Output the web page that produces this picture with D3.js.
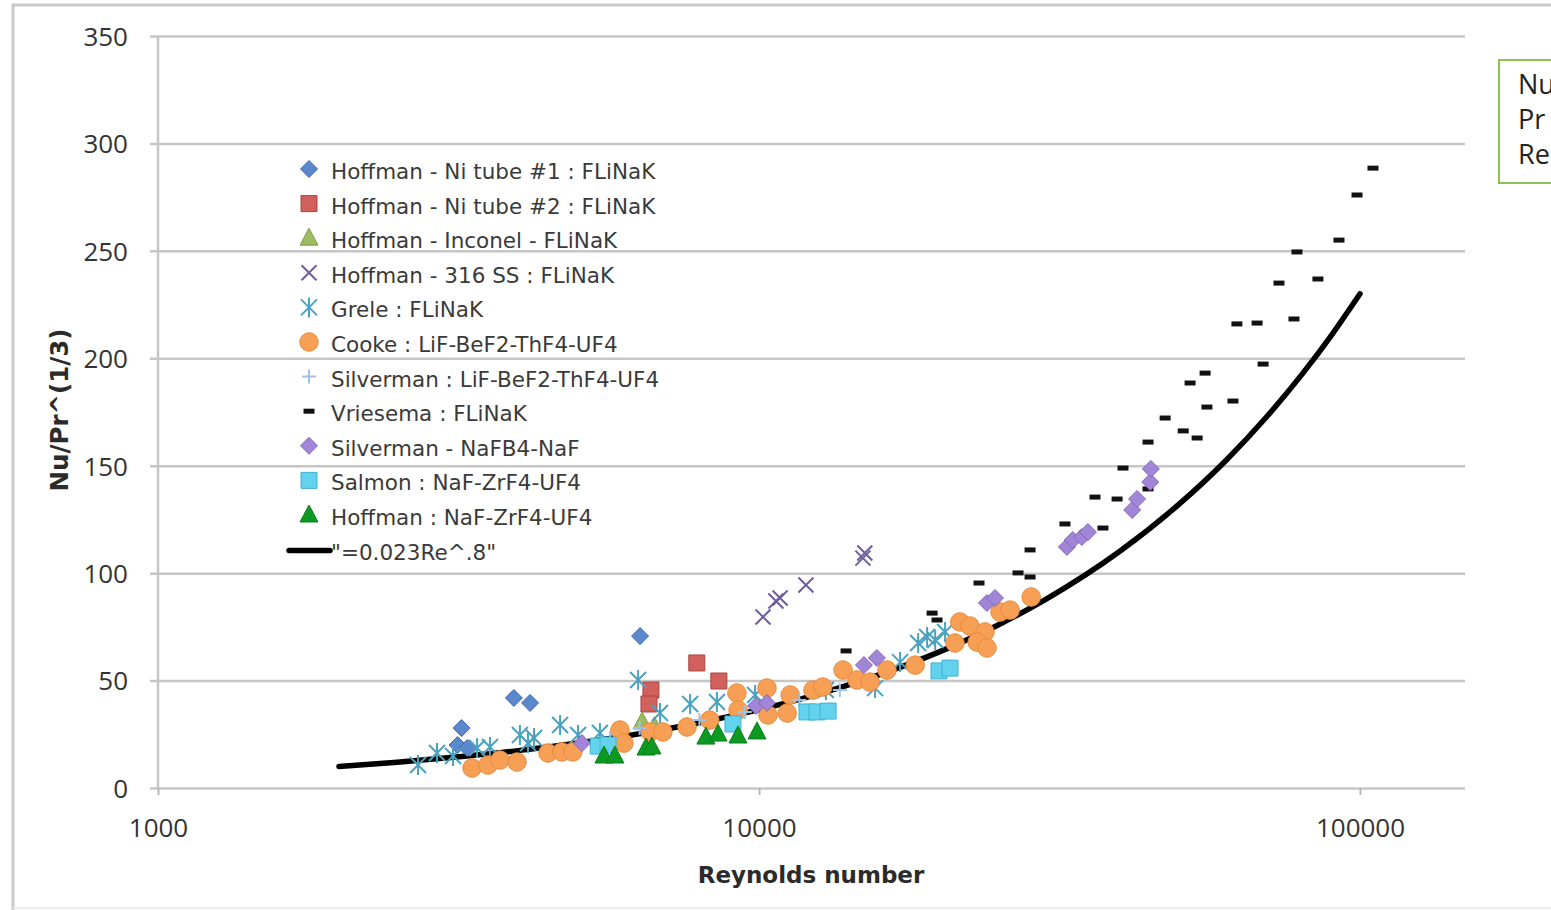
<!DOCTYPE html>
<html>
<head>
<meta charset="utf-8">
<script src="https://cdn.jsdelivr.net/npm/d3@7"></script>
<style>
  html, body { margin: 0; padding: 0; background: #fff; }
  svg { display: block; }
  text { font-family: "Open Sans", "DejaVu Sans", sans-serif; }
</style>
</head>
<body>
<svg id="chart" width="1551" height="910"></svg>
<script>
// ---- Data: [Reynolds number, Nu/Pr^(1/3)] ----
const hoffmanNi1 = [[3200, 27.9], [3150, 20.0], [3270, 18.6], [3910, 41.9], [4160, 39.6], [6340, 70.7]];
const hoffmanNi2 = [[7880, 58.2], [6610, 45.6], [6560, 39.1], [8575, 49.8]];
const hoffmanInconel = [[6390, 30.7], [6700, 28.5]];
const hoffman316 = [[10155, 79.6], [10670, 87.0], [10840, 88.4], [11970, 94.5], [14890, 107.0], [15000, 109.4]];
const grele = [[2708, 10.7], [2912, 16.3], [3097, 14.9], [3396, 18.6], [3567, 19.1], [4001, 24.7], [4127, 20.9],
  [4224, 23.3], [4667, 29.3], [5000, 24.7], [5436, 25.6], [6293, 50.3], [6843, 34.9], [7680, 39.1], [8511, 40.0],
  [9850, 43.3], [12920, 45.6], [15600, 46.5], [17170, 58.6], [18400, 67.5], [19040, 70.3], [19640, 68.9], [20400, 72.6]];
const cooke = [[3331, 9.3], [3540, 10.7], [3707, 13.0], [3957, 12.1], [4456, 16.3], [4699, 16.8], [4900, 16.8],
  [5870, 27.0], [5960, 20.9], [6590, 26.1], [6920, 26.1], [7590, 28.4], [8280, 31.6], [9190, 44.2], [9230, 36.3],
  [10310, 46.5], [10350, 34.0], [11140, 34.9], [11270, 43.3], [12300, 45.6], [12770, 47.0], [13800, 54.9],
  [14560, 50.3], [15300, 49.3], [16330, 54.9], [18190, 57.2], [21190, 67.5], [21590, 77.3], [22440, 75.4],
  [23770, 72.6], [23070, 67.9], [23950, 65.2], [25180, 81.9], [26170, 82.8], [28370, 88.9]];
const silvermanLiF = [[5650, 23.3], [6330, 27.9], [7960, 31.6], [9470, 35.4], [11670, 41.0], [13630, 45.6]];
const vriesema = [[13960, 63.8], [19410, 81.4], [19780, 78.2], [23230, 95.4], [26980, 100.1], [28250, 98.2],
  [28250, 110.8], [32290, 122.9], [37350, 121.0], [36230, 135.4], [39430, 134.5], [40330, 148.9], [44390, 161.0],
  [44390, 139.2], [47400, 172.2], [50800, 166.2], [53580, 162.9], [52150, 188.5], [55240, 193.1], [55630, 177.3],
  [61460, 180.1], [62400, 216.0], [67420, 216.4], [68990, 197.3], [73310, 235.0], [77650, 218.3], [78550, 249.5],
  [85110, 236.9], [92260, 255.0], [98870, 276.0], [105100, 288.5]];
const silvermanNaFB4 = [[5076, 20.9], [9885, 38.2], [10310, 39.6], [14950, 57.2], [15710, 60.5], [23950, 86.1],
  [24700, 88.4], [32540, 112.2], [33270, 115.4], [34450, 116.8], [35260, 119.1], [41780, 129.4], [42560, 134.5],
  [44770, 142.4], [44880, 148.5]];
const salmon = [[5400, 19.5], [5608, 20.0], [9050, 29.8], [12020, 35.4], [12490, 35.4], [13030, 35.8], [19930, 54.5], [20790, 55.8]];
const hoffmanNaF = [[5522, 14.9], [5757, 14.9], [6486, 18.6], [6634, 19.1], [8160, 23.7], [8547, 25.1], [9226, 24.2], [9924, 26.1]];
// Correlation line "=0.023Re^.8", tabulated
const correlation = [[2000, 10.06], [2500, 12.02], [3000, 13.92], [4000, 17.52], [5000, 20.94], [6000, 24.23],
  [8000, 30.51], [10000, 36.45], [12000, 42.19], [15000, 50.43], [20000, 63.48], [25000, 75.88], [30000, 87.79],
  [40000, 110.5], [50000, 132.1], [60000, 152.8], [70000, 172.9], [80000, 192.4], [90000, 211.4], [100000, 230.0]];

const yTicks = [0, 50, 100, 150, 200, 250, 300, 350];
const xTicks = [1000, 10000, 100000];
const xTitle = "Reynolds number";
const yTitle = "Nu/Pr^(1/3)";
const sideNoteLines = ["Nu", "Pr", "Re"];

// ---- Series definitions (legend order = drawing order) ----
const series = [
  { name: "Hoffman - Ni tube #1 : FLiNaK", data: hoffmanNi1, shape: "diamond", fill: "#5b87cc", stroke: "#3f6aad" },
  { name: "Hoffman - Ni tube #2 : FLiNaK", data: hoffmanNi2, shape: "square", fill: "#d2605c", stroke: "#a94440" },
  { name: "Hoffman - Inconel - FLiNaK", data: hoffmanInconel, shape: "triangle", fill: "#9dbb61", stroke: "#7f9c48" },
  { name: "Hoffman - 316 SS : FLiNaK", data: hoffman316, shape: "x", fill: "none", stroke: "#6e5e9e" },
  { name: "Grele : FLiNaK", data: grele, shape: "star", fill: "none", stroke: "#4aa2c0" },
  { name: "Cooke : LiF-BeF2-ThF4-UF4", data: cooke, shape: "circle", fill: "#f7a055", stroke: "#e58a3c" },
  { name: "Silverman : LiF-BeF2-ThF4-UF4", data: silvermanLiF, shape: "plus", fill: "none", stroke: "#9fc1e4" },
  { name: "Vriesema : FLiNaK", data: vriesema, shape: "dash", fill: "#111", stroke: "none" },
  { name: "Silverman - NaFB4-NaF", data: silvermanNaFB4, shape: "diamond", fill: "#a185d6", stroke: "#8468bb" },
  { name: "Salmon : NaF-ZrF4-UF4", data: salmon, shape: "square", fill: "#62d2ee", stroke: "#3fb3d2" },
  { name: "Hoffman : NaF-ZrF4-UF4", data: hoffmanNaF, shape: "triangle", fill: "#0c9a22", stroke: "#0a7f1b" }
];
const lineSeries = { name: "\"=0.023Re^.8\"", data: correlation };

// ---- Layout ----
const plot = { left: 158, right: 1465, top: 36, bottom: 788 };
const svg = d3.select("#chart");
const labelFont = "'DejaVu Sans', sans-serif";

const x = d3.scaleLog().domain([1000, 100000]).range([plot.left, 1360]);
const y = d3.scaleLinear().domain([0, 350]).range([plot.bottom, plot.top]);

// Outer chart frame (left and top edges visible)
svg.append("path")
  .attr("d", "M13,910 L13,5 L1551,5")
  .attr("fill", "none").attr("stroke", "#c9c9c9").attr("stroke-width", 3);
svg.append("line").attr("x1", 13).attr("x2", 1551).attr("y1", 908).attr("y2", 908)
  .attr("stroke", "#ececec").attr("stroke-width", 2);

// Horizontal gridlines + left ticks
const yAxis = svg.append("g")
  .attr("transform", `translate(${plot.left},0)`)
  .call(d3.axisLeft(y).tickValues(yTicks).tickSizeInner(-(plot.right - plot.left)).tickSizeOuter(0).tickPadding(30));
yAxis.select(".domain").remove();
yAxis.selectAll(".tick line").attr("x1", -8).attr("stroke", "#c6c6c6").attr("stroke-width", 2.5);
yAxis.selectAll(".tick text")
  .attr("fill", "#333").attr("font-size", 26).attr("dy", "0.36em")
  .style("font-family", "'Open Sans', sans-serif");

// Vertical axis line
svg.append("line").attr("x1", plot.left).attr("x2", plot.left).attr("y1", plot.top).attr("y2", plot.bottom)
  .attr("stroke", "#c6c6c6").attr("stroke-width", 2.5);

// Bottom axis ticks + labels
const xAxis = svg.append("g")
  .attr("transform", `translate(0,${plot.bottom})`)
  .call(d3.axisBottom(x).tickValues(xTicks).tickFormat(d3.format("d")).tickSizeInner(7).tickSizeOuter(0).tickPadding(24));
xAxis.select(".domain").remove();
xAxis.selectAll(".tick line").attr("stroke", "#b8b8b8").attr("stroke-width", 2);
xAxis.selectAll(".tick text")
  .attr("fill", "#333").attr("font-size", 26)
  .style("font-family", "'Open Sans', sans-serif");

// Axis titles
svg.append("text").attr("x", 811).attr("y", 883).attr("text-anchor", "middle")
  .attr("font-size", 23).attr("font-weight", "bold").attr("fill", "#2b2b2b")
  .style("font-family", labelFont).text(xTitle);
svg.append("text").attr("transform", "translate(68,410) rotate(-90)").attr("text-anchor", "middle")
  .attr("font-size", 24.5).attr("font-weight", "bold").attr("fill", "#2b2b2b")
  .style("font-family", labelFont).text(yTitle);

// ---- Marker shapes ----
function markerPath(shape) {
  switch (shape) {
    case "diamond": return "M0,-8.5 L8.5,0 L0,8.5 L-8.5,0 Z";
    case "square": return "M-8,-8 H8 V8 H-8 Z";
    case "triangle": return "M0,-10 L9,7 L-9,7 Z";
    case "circle": return d3.symbol(d3.symbolCircle, 270)();
    case "x": return "M-7.5,-7.5 L7.5,7.5 M7.5,-7.5 L-7.5,7.5";
    case "star": return "M-8,-8 L8,8 M8,-8 L-8,8 M0,-10 L0,10";
    case "plus": return "M-7,0 L7,0 M0,-7 L0,7";
    case "dash": return "M-5.5,-2.5 H5.5 V2.5 H-5.5 Z";
  }
}
function drawMarker(g, s) {
  g.append("path")
    .attr("d", markerPath(s.shape))
    .attr("fill", s.fill)
    .attr("stroke", s.stroke)
    .attr("stroke-width", (s.shape === "x" || s.shape === "star" || s.shape === "plus") ? 2 : 1);
}

// Correlation curve
svg.append("path")
  .datum(lineSeries.data)
  .attr("fill", "none").attr("stroke", "#000").attr("stroke-width", 5.5).attr("stroke-linecap", "round")
  .attr("d", d3.line().x(d => x(d[0])).y(d => y(d[1])).curve(d3.curveMonotoneX));

// Data points
series.forEach(s => {
  const g = svg.append("g");
  s.data.forEach(d => {
    const m = g.append("g").attr("transform", `translate(${x(d[0])},${y(d[1])})`);
    drawMarker(m, s);
  });
});

// ---- Legend ----
const legend = svg.append("g");
const legendTop = 171, legendStep = 34.6;
series.forEach((s, i) => {
  const cy = legendTop + i * legendStep;
  const m = legend.append("g").attr("transform", `translate(309,${cy - 2})`);
  drawMarker(m, s);
  legend.append("text").attr("x", 331).attr("y", cy + 8)
    .attr("font-size", 21.5).attr("fill", "#3a3a3a")
    .style("font-family", labelFont).text(s.name);
});
{
  const cy = legendTop + series.length * legendStep;
  legend.append("line").attr("x1", 289).attr("x2", 330).attr("y1", cy - 1).attr("y2", cy - 1)
    .attr("stroke", "#000").attr("stroke-width", 5.5).attr("stroke-linecap", "round");
  legend.append("text").attr("x", 331).attr("y", cy + 8)
    .attr("font-size", 21.5).attr("fill", "#3a3a3a")
    .style("font-family", labelFont).text(lineSeries.name);
}

// Side note box (extends past the page edge)
svg.append("rect").attr("x", 1499).attr("y", 60).attr("width", 80).attr("height", 123)
  .attr("fill", "#fff").attr("stroke", "#8dc055").attr("stroke-width", 2);
sideNoteLines.forEach((t, i) => {
  svg.append("text").attr("x", 1518).attr("y", 94 + i * 35)
    .attr("font-size", 27).attr("fill", "#222").text(t);
});
</script>
</body>
</html>
